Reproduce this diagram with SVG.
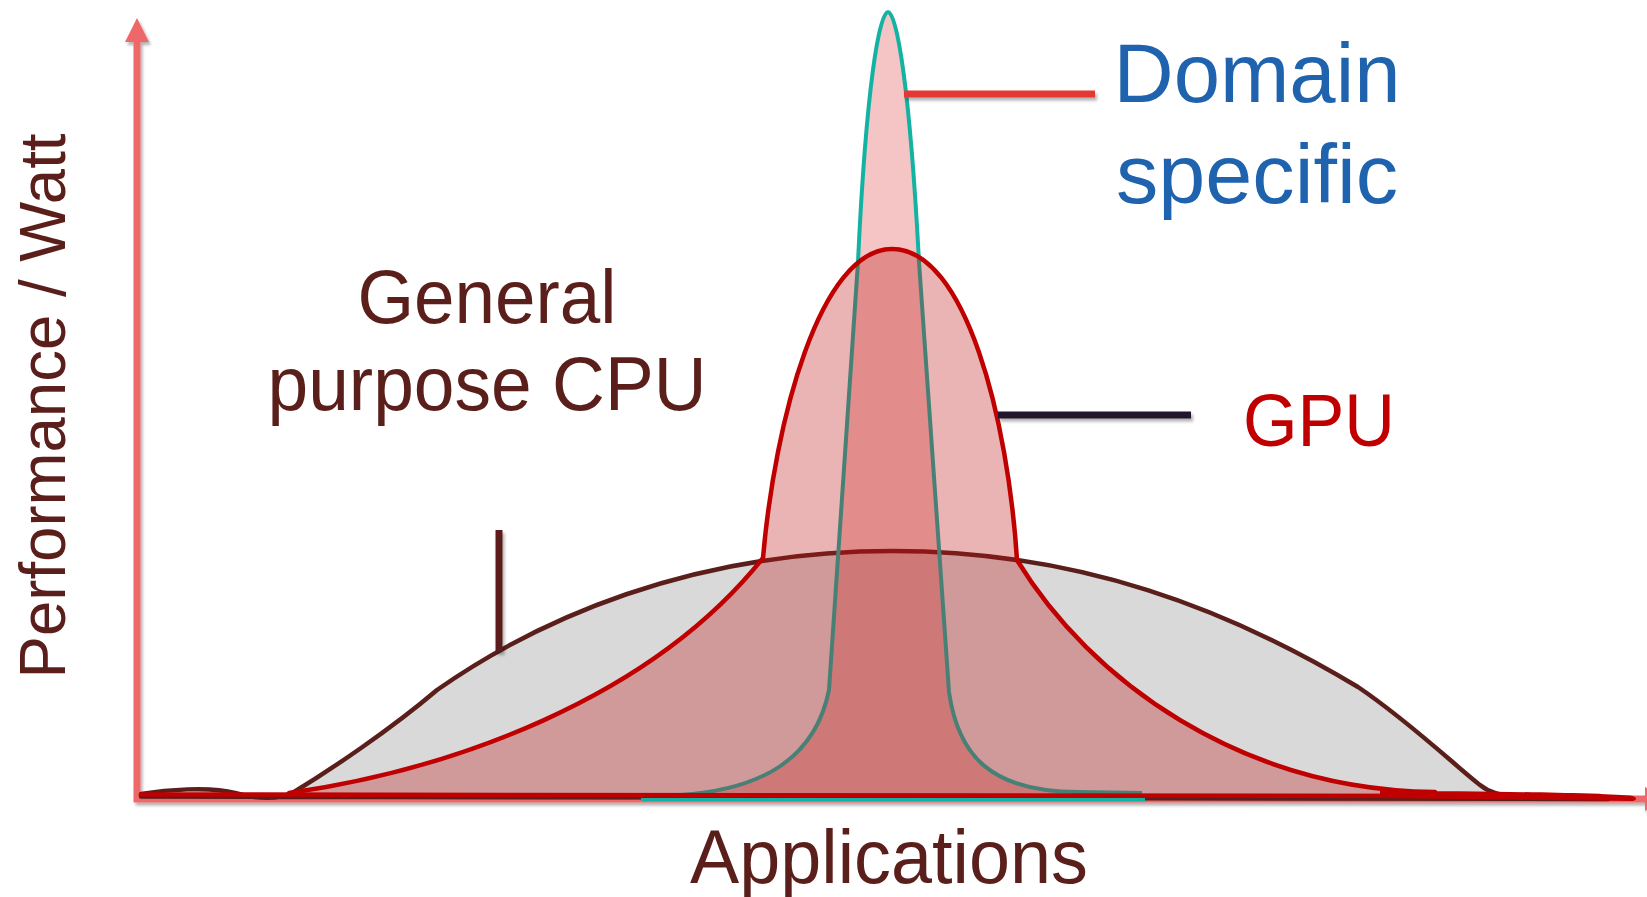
<svg xmlns="http://www.w3.org/2000/svg" width="1647" height="897" viewBox="0 0 1647 897">
  <defs>
    <filter id="shadow" x="-5%" y="-20%" width="110%" height="140%">
      <feDropShadow dx="2" dy="3" stdDeviation="1.8" flood-color="#000" flood-opacity="0.3"/>
    </filter>
    <style>
      .lbl { font-family: "Liberation Sans", Arial, sans-serif; }
      .brown { fill: #5A1F1B; }
      .axis { stroke: #EE676B; stroke-width: 7; fill: none; }
      .axis-head { fill: #EE676B; }
      .cpu { fill: #D9D9D9; stroke: #5A1F1B; stroke-width: 4.5; stroke-linejoin: round; }
      .dom-fill { fill: #D50808; fill-opacity: 0.24; }
      .dom-line { fill: none; stroke: #12B3A3; stroke-width: 4; stroke-linejoin: round; }
      .gpu-fill { fill: #BD1515; fill-opacity: 0.32; }
      .gpu-line { fill: none; stroke: #C00000; stroke-width: 4.5; stroke-linejoin: round; stroke-linecap: round; }
      .leader { stroke-width: 7; fill: none; }
    </style>
  </defs>

  <rect width="1647" height="897" fill="#FFFFFF"/>

  <!-- axes -->
  <g id="axes" filter="url(#shadow)">
    <line class="axis" x1="137" y1="40" x2="137" y2="802"/>
    <polygon class="axis-head" points="137,18 149,42 125,42"/>
    <line class="axis" x1="134" y1="799" x2="1650" y2="799"/>
    <polygon class="axis-head" points="1645,787 1669,799 1645,811"/>
  </g>

  <!-- general purpose CPU curve -->
  <g id="cpu-curve">
    <path class="cpu" d="M 141 794 C 165 790, 210 786, 235 793 C 255 799, 280 800, 294 792 C 330 770, 390 730, 437 690 C 537 620, 690 551, 893 551 C 1080 551, 1230 610, 1358 687 C 1410 722, 1460 770, 1480 785 C 1490 793, 1500 795, 1515 796 L 1608 799 L 141 796.5 Z"/>
  </g>

  <!-- domain specific spike -->
  <g id="domain-curve">
    <path class="dom-fill" d="M 680 795 C 760 790, 815 760, 829 690 L 858 262 C 866 90, 879 12, 888 12 C 897 12, 910 90, 919 262 L 949 692 C 958 755, 990 792, 1079 792 L 1142 794 L 1142 797 L 680 797 Z"/>
    <path class="dom-line" d="M 680 795 C 760 790, 815 760, 829 690 L 858 262 C 866 90, 879 12, 888 12 C 897 12, 910 90, 919 262 L 949 692 C 958 755, 990 792, 1079 792 L 1142 793"/>
    <line x1="641" y1="799.5" x2="1145" y2="799.5" stroke="#12B3A3" stroke-width="3"/>
  </g>

  <!-- GPU curve -->
  <g id="gpu-curve">
    <path class="gpu-fill" d="M 141 795 L 289 793 C 450 770, 650 700, 763 558 C 775 420, 820 249, 892 249 C 966 249, 1008 420, 1017 560 C 1090 680, 1240 790, 1435 792 L 1520 795 L 1520 795 L 141 795 Z"/>
    <path class="gpu-line" d="M 289 793 C 450 770, 650 700, 763 558 C 775 420, 820 249, 892 249 C 966 249, 1008 420, 1017 560 C 1090 680, 1240 790, 1435 792"/>
    <path class="gpu-line" stroke-width="6" d="M 141 794.5 L 1600 796"/>
    <path fill="#C00000" d="M 1380 791 C 1500 791, 1590 793, 1630 795.5 C 1638 796.5, 1638 801, 1630 801 L 1380 798 Z"/>
  </g>

  <!-- leader lines -->
  <g id="leaders" filter="url(#shadow)">
    <line class="leader" x1="904" y1="94" x2="1095" y2="94" stroke="#E53935"/>
    <line class="leader" x1="998" y1="415" x2="1191" y2="415" stroke="#22122E" stroke-width="6.5"/>
    <line class="leader" x1="499" y1="530" x2="499" y2="652" stroke="#5A1F1B" stroke-width="6"/>
  </g>

  <!-- labels -->
  <g id="label-domain">
    <text class="lbl" x="1257" y="102" font-size="84" text-anchor="middle" fill="#1F63AE" textLength="287" lengthAdjust="spacingAndGlyphs">Domain</text>
    <text class="lbl" x="1257" y="203" font-size="84" text-anchor="middle" fill="#1F63AE" textLength="282" lengthAdjust="spacingAndGlyphs">specific</text>
  </g>
  <g id="label-gpu">
    <text class="lbl" x="1319" y="446" font-size="74" text-anchor="middle" fill="#C00000" textLength="152" lengthAdjust="spacingAndGlyphs">GPU</text>
  </g>
  <g id="label-cpu">
    <text class="lbl brown" x="487" y="323" font-size="76" text-anchor="middle" textLength="259" lengthAdjust="spacingAndGlyphs">General</text>
    <text class="lbl brown" x="487" y="410" font-size="76" text-anchor="middle" textLength="439" lengthAdjust="spacingAndGlyphs">purpose CPU</text>
  </g>
  <g id="label-x">
    <text class="lbl brown" x="889" y="883" font-size="76" text-anchor="middle" textLength="398" lengthAdjust="spacingAndGlyphs">Applications</text>
  </g>
  <g id="label-y">
    <text class="lbl brown" transform="translate(65,406) rotate(-90)" x="0" y="0" font-size="65" text-anchor="middle" textLength="545" lengthAdjust="spacingAndGlyphs">Performance / Watt</text>
  </g>
</svg>
